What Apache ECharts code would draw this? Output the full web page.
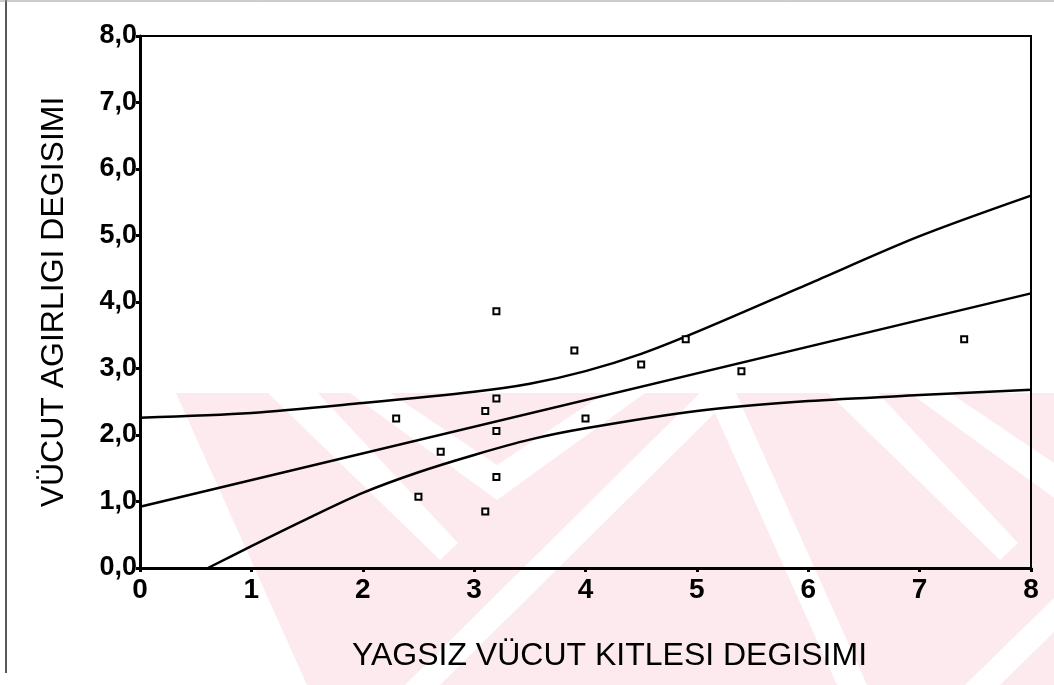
<!DOCTYPE html>
<html>
<head>
<meta charset="utf-8">
<script src="https://cdn.jsdelivr.net/npm/echarts@6/dist/echarts.min.js"></script>
<style>
	html, body { margin: 0; padding: 0; background: #fff; }
	#chart-1 { width: 1054px; height: 685px; }
</style>
</head>
<body>
<div id="chart-1"></div>
<script>
// observed cases
var pointsX = [2.3, 2.5, 2.7, 3.1, 3.1, 3.2, 3.2, 3.2, 3.2, 3.9, 4.0, 4.5, 4.9, 5.4, 7.4];
var pointsY = [2.25, 1.07, 1.75, 0.85, 2.36, 3.86, 2.55, 2.06, 1.37, 3.27, 2.25, 3.06, 3.44, 2.96, 3.44];

// fitted line
var fitX = [0, 8];
var fitY = [0.92, 4.13];

// upper and lower band
var upperX = [0, 1, 2, 3, 3.5, 4, 4.5, 5, 6, 7, 8];
var upperY = [2.26, 2.33, 2.48, 2.65, 2.77, 2.96, 3.22, 3.55, 4.27, 4.99, 5.6];
var lowerX = [0.61, 1, 1.5, 2, 2.5, 3, 3.5, 4, 5, 6, 7, 8];
var lowerY = [0, 0.33, 0.74, 1.13, 1.44, 1.70, 1.93, 2.10, 2.36, 2.51, 2.60, 2.68];

var axisTicks = [0, 1, 2, 3, 4, 5, 6, 7, 8];

function pairs(xs, ys) {
	var out = [];
	for (var i = 0; i < xs.length; i++) {
		out.push([xs[i], ys[i]]);
	}
	return out;
}

var myChart = echarts.init(document.getElementById('chart-1'));

var font = "'Liberation Sans', Arial, sans-serif";
var pink = '#fdeaef';

// watermark behind the plot
function poly(pts) {
	return { type: 'polygon', z: -10, silent: true, shape: { points: pts }, style: { fill: '#fff' } };
}
var marks = [
	{ type: 'rect', z: -10, silent: true, shape: { x: 176, y: 393, width: 878, height: 292 }, style: { fill: pink } },
	poly([[176, 393], [176, 685], [307, 685]]),
	poly([[268, 393], [318, 393], [458, 543], [440, 560]]),
	poly([[350, 393], [390, 393], [497, 465], [605, 393], [645, 393], [497, 500]]),
	poly([[405, 685], [440, 685], [735, 393], [700, 393]]),
	poly([[736, 393], [867, 685], [837, 685], [706, 393]]),
	poly([[828, 393], [878, 393], [1018, 543], [1000, 560]]),
	poly([[910, 393], [950, 393], [1057, 465], [1057, 500]]),
	poly([[965, 685], [1000, 685], [1054, 632], [1054, 598]]),
	// page frame
	{ type: 'line', silent: true, shape: { x1: 6, y1: 0, x2: 6, y2: 673 }, style: { stroke: '#222', lineWidth: 1.5 } },
	{ type: 'line', silent: true, shape: { x1: 0, y1: 1, x2: 1054, y2: 1 }, style: { stroke: '#999', lineWidth: 1 } }
];

var option = {
	animation: false,
	backgroundColor: '#fff',
	graphic: { elements: marks },
	grid: {
		left: 140,
		right: 23,
		top: 36,
		bottom: 117,
		show: true,
		borderColor: '#000',
		borderWidth: 2
	},
	xAxis: {
		type: 'value',
		min: 0,
		max: 8,
		interval: 1,
		name: 'YAGSIZ VÜCUT KITLESI DEGISIMI',
		nameLocation: 'middle',
		nameGap: 72,
		nameTextStyle: { fontFamily: font, fontSize: 32, color: '#000', padding: [0, 0, 0, 48] },
		axisLine: { lineStyle: { color: '#000', width: 3 } },
		axisTick: { show: true, length: 4, lineStyle: { color: '#000', width: 3 } },
		axisLabel: {
			margin: 8,
			color: '#000',
			fontFamily: font,
			fontWeight: 'bold',
			fontSize: 28,
			formatter: function (v) { return axisTicks.indexOf(v) >= 0 ? String(v) : ''; }
		},
		splitLine: { show: false }
	},
	yAxis: {
		type: 'value',
		min: 0,
		max: 8,
		interval: 1,
		name: 'VÜCUT AGIRLIGI DEGISIMI',
		nameLocation: 'middle',
		nameRotate: 90,
		nameGap: 70,
		nameTextStyle: { fontFamily: font, fontSize: 32, color: '#000' },
		axisLine: { lineStyle: { color: '#000', width: 3 } },
		axisTick: { show: true, length: 4, lineStyle: { color: '#000', width: 3 } },
		axisLabel: {
			margin: 3,
			color: '#000',
			fontFamily: font,
			fontWeight: 'bold',
			fontSize: 27,
			formatter: function (v) { return v.toFixed(1).replace('.', ','); }
		},
		splitLine: { show: false }
	},
	series: [{
		name: 'upper',
		type: 'line',
		showSymbol: false,
		smooth: 0.3,
		lineStyle: { color: '#000', width: 2.5 },
		data: pairs(upperX, upperY)
	}, {
		name: 'fit',
		type: 'line',
		showSymbol: false,
		lineStyle: { color: '#000', width: 2.5 },
		data: pairs(fitX, fitY)
	}, {
		name: 'lower',
		type: 'line',
		showSymbol: false,
		smooth: 0.3,
		lineStyle: { color: '#000', width: 2.5 },
		data: pairs(lowerX, lowerY)
	}, {
		name: 'cases',
		type: 'scatter',
		symbol: 'rect',
		symbolSize: 6,
		itemStyle: { color: '#fff', borderColor: '#000', borderWidth: 2, opacity: 1 },
		z: 5,
		data: pairs(pointsX, pointsY)
	}]
};

myChart.setOption(option);
</script>
</body>
</html>
